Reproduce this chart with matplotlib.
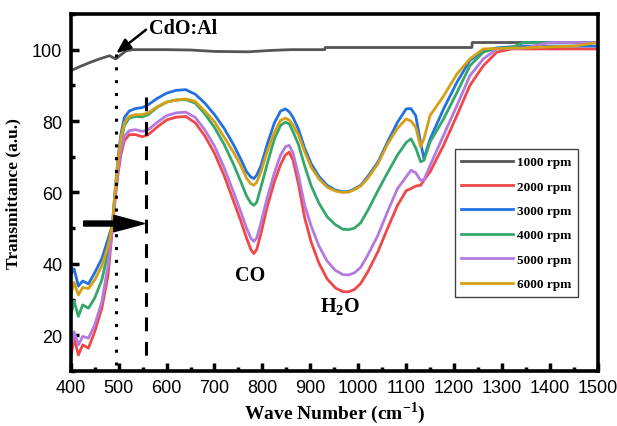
import matplotlib
matplotlib.use("Agg")
import matplotlib.pyplot as plt
from matplotlib.ticker import MultipleLocator

# wavenumber grid shared by the coloured spectra (cm^-1)
wn = [400, 407, 416, 425, 437, 450, 465, 478, 487, 493, 499, 505, 512, 522, 535, 550,
      562, 580, 600, 620, 640, 660, 680, 700, 720, 740, 755, 767, 776, 782, 788, 797,
      810, 825, 838, 848, 856, 864, 875, 888, 902, 918, 935, 952, 968, 980, 992, 1005,
      1020, 1041, 1061, 1082, 1100, 1110, 1120, 1130, 1137, 1150, 1178, 1206, 1233,
      1261, 1289, 1320, 1345, 1400, 1450, 1500]

t2000 = [13.6, 19.2, 14.5, 17.3, 16.4, 21, 27.6, 36.9, 50, 58.5, 65.5, 70.8, 74.5, 76.2, 76.2, 75.6,
         76.2, 78.3, 80.3, 81.1, 81.3, 79.5, 75.8, 71, 64.8, 57.5, 52, 47.2, 44, 42.9, 44, 48.5,
         56, 63, 67.8, 70.5, 71.3, 69, 62.5, 53, 46, 40.2, 35.8, 33.3, 32.2, 32.2, 32.8, 34.5,
         37.8, 43.4, 49.9, 56.4, 60.5, 61.1, 61.8, 62, 63.4, 65.8, 73.2, 81.6, 90,
         95.5, 99.3, 100.2, 100.2, 100.2, 100.2, 100.2]
t3000 = [37, 38.6, 33.8, 35.2, 34.4, 37.5, 41.5, 47, 51, 61, 70, 76.5, 81, 82.8, 83.5, 83.8,
         84.6, 86.3, 87.8, 88.6, 88.8, 87.5, 85, 81.8, 78, 73.3, 69.3, 65.8, 64.3, 63.9, 64.8, 67.5,
         73.5, 79.5, 82.8, 83.4, 82.6, 81, 77.8, 72.5, 68, 64.5, 62, 60.7, 60.2, 60.3, 61, 62,
         64.5, 68.5, 74.1, 79.7, 83.4, 83.5, 81.5, 74, 69.5, 75, 83.4, 90.9, 97,
         99.7, 100.5, 100.8, 101, 101, 101, 101]
t4000 = [25.3, 29.6, 25.3, 28.5, 27.6, 30.4, 35.5, 43.4, 50.5, 60, 68.5, 74.5, 78.8, 80.8, 81.3, 81.2,
         81.8, 83.8, 85.3, 85.9, 86, 85, 82, 78.2, 73.5, 67.8, 63, 59, 57, 56.4, 57.2, 61.5,
         68, 75, 78.8, 79.7, 79.2, 77, 73.5, 67.5, 61.8, 57, 53.2, 51, 49.7, 49.6, 50, 51.5,
         55, 60.5, 65.5, 70.5, 74, 75, 72.5, 68.6, 69, 74.2, 80.6, 88, 95.5,
         99.3, 100.4, 100.6, 102, 102, 102, 102]
t5000 = [15.6, 21, 17.3, 19.7, 19.2, 22.9, 29.4, 39.7, 50, 59, 66.5, 72, 75.8, 77.3, 77.6, 77.1,
         77.6, 79.6, 81.5, 82.3, 82.5, 81, 77.5, 73, 67, 60, 54.5, 50, 47.2, 46.3, 47.2, 51.5,
         58.5, 65.5, 70.5, 72.8, 73.2, 71, 65, 56.5, 50.5, 45, 40.8, 38.2, 37, 36.9, 37.5, 39,
         42.5, 48, 54.6, 61.1, 64.4, 66.2, 65.5, 63.4, 63.5, 67.6, 76, 84.4, 92.7,
         97.4, 100.2, 100.3, 100.4, 102, 102, 102]
t6000 = [31.3, 34.8, 31.3, 33.4, 33.1, 35.5, 39.5, 45, 51, 61, 69.5, 75.5, 79.5, 81.3, 81.8, 81.8,
         82.3, 84, 85.3, 85.9, 86.2, 85.5, 82.8, 79.8, 75.5, 71.2, 67.5, 64, 62.4, 62, 62.8, 65.8,
         71.5, 76.8, 80.2, 80.8, 80.3, 78.8, 76.2, 71.5, 67, 63.8, 61.5, 60.4, 60, 60.1, 60.8, 61.8,
         64, 68, 73.5, 78, 80.6, 80, 78.3, 72.8, 75, 81.6, 87, 93.2, 97.4,
         100.2, 100.3, 100.4, 100.5, 100.8, 101, 102]

# 1000 rpm spectrum read on its own grid
wn1000 = [400, 420, 440, 460, 481, 494, 505, 516, 530, 600, 650, 700, 771, 820,
          860, 930, 931, 1237, 1238, 1500]
t1000 = [94.1, 95.3, 96.4, 97.4, 98.3, 97.4, 98.6, 99.7, 100, 100, 99.9, 99.5, 99.4, 99.8,
         100, 100, 100.6, 100.6, 102, 102]

labels = ["1000 rpm", "2000 rpm", "3000 rpm", "4000 rpm", "5000 rpm", "6000 rpm"]
colors = ["#555555", "#f04848", "#2172e0", "#34a86c", "#b37ae0", "#d4a015"]

serif = "Liberation Serif"
plt.rcParams["font.family"] = "Liberation Sans"
plt.rcParams["mathtext.fontset"] = "custom"
plt.rcParams["mathtext.rm"] = serif
plt.rcParams["mathtext.bf"] = serif + ":bold"

fig = plt.figure(figsize=(6.17, 4.27), dpi=100)
ax = fig.add_axes([0.1146, 0.1288, 0.8544, 0.8362])

series = [(wn1000, t1000), (wn, t2000), (wn, t3000), (wn, t4000), (wn, t5000), (wn, t6000)]
for (x, y), lab, c in zip(series, labels, colors):
    ax.plot(x, y, color=c, lw=2.0, label=lab)

# guide lines and markers
ax.plot([494, 494], [98.8, 10], ls=(0, (1, 3.2)), color="black", lw=2.2)
ax.plot([557, 557], [86.8, 14], ls=(0, (4.5, 3.5)), color="black", lw=2.2)
ax.arrow(427, 51.3, 127, 0, width=1.4, head_width=4.6, head_length=64,
         length_includes_head=True, color="black", zorder=5)
ax.annotate("CdO:Al", xy=(495, 99), xytext=(563, 106.2),
            fontsize=14.5, fontweight="bold", family=serif, va="center",
            arrowprops=dict(arrowstyle="-|>,head_length=0.6,head_width=0.25",
                            color="black", lw=1.8, shrinkA=0, shrinkB=0,
                            relpos=(0, 0.5)))
ax.text(775, 37, "CO", fontsize=14.5, fontweight="bold", family=serif, ha="center", va="center")
ax.text(962, 28, "H$_\\mathbf{2}$O", fontsize=14.5, fontweight="bold", family=serif,
        ha="center", va="center")

ax.set_xlim(400, 1500)
ax.set_ylim(10, 110)
ax.xaxis.set_major_locator(MultipleLocator(100))
ax.xaxis.set_minor_locator(MultipleLocator(50))
ax.yaxis.set_minor_locator(MultipleLocator(10))
ax.set_yticks([20, 40, 60, 80, 100])
ax.tick_params(which="major", direction="in", length=6, width=2.5, labelsize=13, pad=6)
ax.tick_params(which="minor", direction="in", length=3, width=2.5)
for s in ax.spines.values():
    s.set_linewidth(2.6)

ax.set_xlabel("Wave Number (cm$^{\\mathbf{-1}}$)", fontsize=14, fontweight="bold",
              family=serif, labelpad=2)
ax.set_ylabel("Transmittance (a.u.)", fontsize=12.5, fontweight="bold",
              family=serif, labelpad=8)

leg = ax.legend(loc="upper left", bbox_to_anchor=(0.716, 0.639),
                prop={"family": serif, "weight": "bold", "size": 9.5},
                handlelength=3.9, labelspacing=0.92, handletextpad=0.3,
                borderpad=0.5, fancybox=False, framealpha=1, edgecolor="#444444")
leg.get_frame().set_linewidth(1.0)

fig.savefig("out.png", dpi=100)
